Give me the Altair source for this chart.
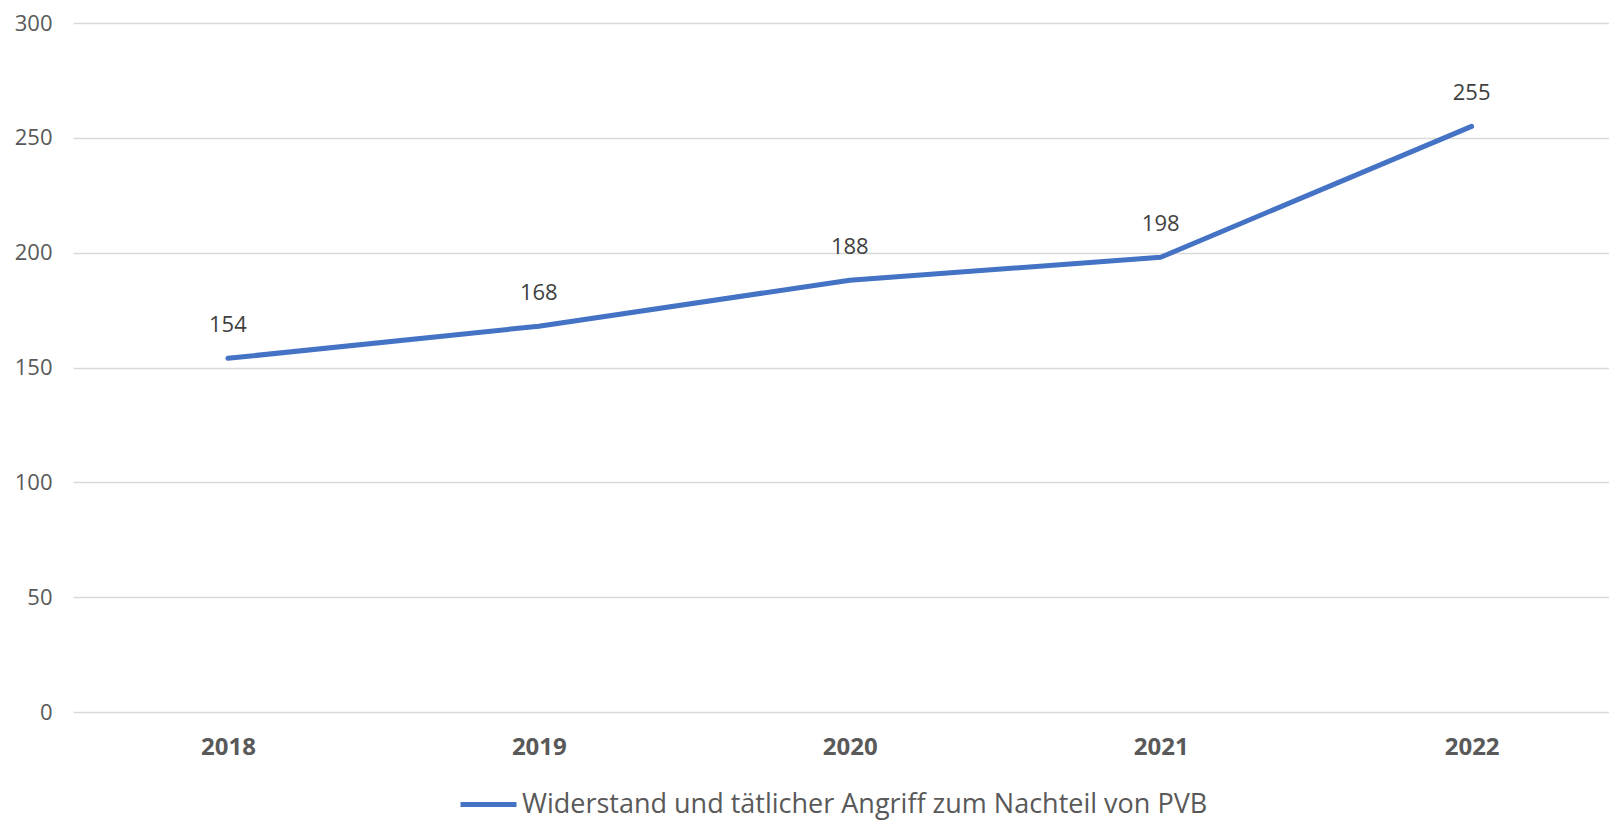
import altair as alt
import pandas as pd

years = ["2018", "2019", "2020", "2021", "2022"]
values = [154, 168, 188, 198, 255]
series_name = "Widerstand und tätlicher Angriff zum Nachteil von PVB"
y_ticks = [0, 50, 100, 150, 200, 250, 300]

df = pd.DataFrame({"Jahr": years, "Wert": values, "Serie": [series_name] * len(years)})

FONT = "Open Sans"
BLUE = "#4472C4"

x_enc = alt.X(
    "Jahr:N",
    sort=years,
    scale=alt.Scale(type="point", padding=0.47, align=0.53),
    axis=alt.Axis(
        title=None, grid=False, domain=False, ticks=False, tickSize=0,
        labelAngle=0,
        labelFont=FONT, labelFontSize=24, labelFontWeight="bold",
        labelColor="#595959", labelBaseline="middle", labelPadding=35,
    ),
)
y_enc = alt.Y(
    "Wert:Q",
    scale=alt.Scale(domain=[0, 300], nice=False, zero=True),
    axis=alt.Axis(
        title=None, values=y_ticks, domain=False, ticks=False, tickSize=0,
        grid=True, gridColor="#D9D9D9", gridWidth=1.5,
        labelFont=FONT, labelFontSize=22, labelColor="#595959",
        labelPadding=21,
    ),
)

line = alt.Chart(df).mark_line(strokeWidth=5, strokeCap="round", strokeJoin="round").encode(
    x=x_enc,
    y=y_enc,
    color=alt.Color(
        "Serie:N",
        scale=alt.Scale(domain=[series_name], range=[BLUE]),
        legend=alt.Legend(
            title=None, orient="none", legendX=385, legendY=751,
            symbolType="stroke", symbolStrokeWidth=5, symbolSize=3136,
            symbolStrokeColor=BLUE,
            labelFont=FONT, labelFontSize=27, labelColor="#595959",
            labelOffset=3, labelLimit=1000, padding=0,
        ),
    ),
)

labels = alt.Chart(df).mark_text(
    font=FONT, fontSize=22, color="#404040", dy=-33, baseline="middle", align="center"
).encode(
    x=x_enc,
    y=y_enc,
    text=alt.Text("Wert:Q"),
)

chart = (
    alt.layer(line, labels)
    .properties(
        width=1536,
        height=689,
        background="white",
        autosize=alt.AutoSizeParams(type="none"),
        padding={"left": 65, "top": 15, "right": 0, "bottom": 108},
    )
    .configure_view(strokeWidth=0, stroke="transparent")
    .configure_axis(domain=False)
)

chart.save("out.html", embed_options={"renderer": "svg", "actions": False})
